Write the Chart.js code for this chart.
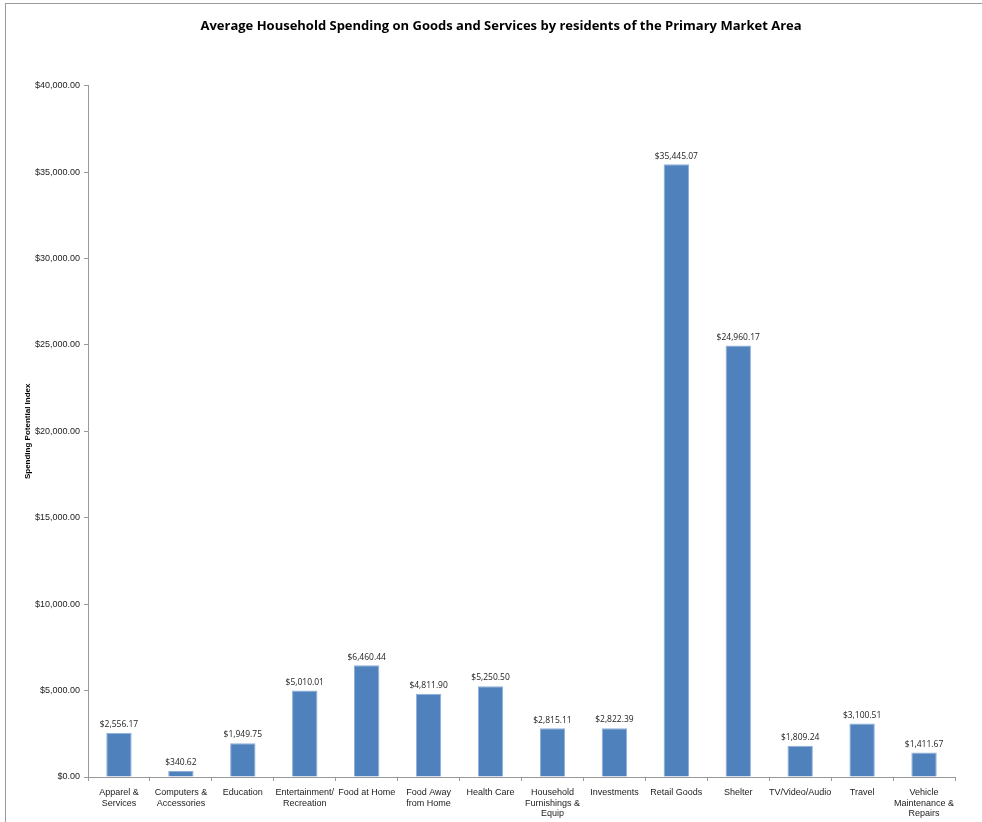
<!DOCTYPE html>
<html>
<head>
<meta charset="utf-8">
<script src="https://cdn.jsdelivr.net/npm/chart.js@4.4.1/dist/chart.umd.min.js"></script>
<style>
  html, body { margin: 0; padding: 0; background: #fff; overflow: hidden; }
  #frame { position: absolute; left: 5px; top: 3px; width: 1000px; height: 840px; border: 1px solid #9a9a9a; }
  #wrap { position: absolute; left: 0; top: 0; width: 982px; height: 822px; }
</style>
</head>
<body>
<div id="frame"></div>
<div id="wrap"><canvas id="spending"></canvas></div>
<script>
// spending categories, split into the lines shown under the axis
const categories = [
  ['Apparel &', 'Services'],
  ['Computers &', 'Accessories'],
  ['Education'],
  ['Entertainment/', 'Recreation'],
  ['Food at Home'],
  ['Food Away', 'from Home'],
  ['Health Care'],
  ['Household', 'Furnishings &', 'Equip'],
  ['Investments'],
  ['Retail Goods'],
  ['Shelter'],
  ['TV/Video/Audio'],
  ['Travel'],
  ['Vehicle', 'Maintenance &', 'Repairs']
]
const spending = [2556.17, 340.62, 1949.75, 5010.01, 6460.44, 4811.90, 5250.50,
  2815.11, 2822.39, 35445.07, 24960.17, 1809.24, 3100.51, 1411.67]

const money = (v) => '$' + v.toLocaleString('en-US', { minimumFractionDigits: 2, maximumFractionDigits: 2 })

// writes the dollar amount above each bar
const valueLabels = {
  id: 'valueLabels',
  afterDatasetsDraw(chart) {
    const ctx = chart.ctx
    const meta = chart.getDatasetMeta(0)
    ctx.save()
    ctx.font = '8.5px "Open Sans", sans-serif'
    ctx.fillStyle = '#222'
    ctx.textAlign = 'center'
    ctx.textBaseline = 'bottom'
    meta.data.forEach((bar, i) => {
      ctx.fillText(money(chart.data.datasets[0].data[i]), bar.x, bar.y - 4)
    })
    ctx.restore()
  }
}

// title sits centred over the whole frame, not just the padded box
const titleShift = {
  id: 'titleShift',
  afterLayout(chart) {
    if (chart.titleBlock) {
      chart.titleBlock.left += 21
      chart.titleBlock.right += 21
    }
  }
}

const ctx = document.getElementById('spending')
window.myBar = new Chart(ctx, {
  type: 'bar',
  data: {
    labels: categories,
    datasets: [{
      data: spending,
      backgroundColor: '#4f81bd',
      borderColor: '#8fb0d8',
      borderWidth: 1,
      barPercentage: 0.41,
      categoryPercentage: 1
    }]
  },
  options: {
    responsive: true,
    maintainAspectRatio: false,
    animation: false,
    layout: { padding: { left: 5, right: 27, top: 0, bottom: 0 } },
    plugins: {
      legend: { display: false },
      tooltip: { enabled: false },
      title: {
        display: true,
        text: 'Average Household Spending on Goods and Services by residents of the Primary Market Area',
        color: '#000',
        font: { family: '"Open Sans", sans-serif', size: 13, weight: 'bold' },
        padding: { top: 18, bottom: 52 }
      }
    },
    scales: {
      x: {
        grid: { drawOnChartArea: false, drawTicks: true, tickLength: 4, color: '#999', offset: true },
        border: { color: '#999' },
        ticks: {
          color: '#222',
          font: { family: '"Liberation Sans", Arial, sans-serif', size: 9 },
          maxRotation: 0,
          autoSkip: false,
          padding: 6
        },
        afterFit: (scale) => { scale.height = 45 }
      },
      y: {
        min: 0,
        max: 40000,
        grid: { drawOnChartArea: false, drawTicks: true, tickLength: 4, color: '#999' },
        border: { color: '#999' },
        ticks: {
          stepSize: 5000,
          color: '#222',
          padding: 4,
          font: { family: '"Liberation Sans", Arial, sans-serif', size: 9 },
          callback: (v) => money(v)
        },
        title: {
          display: true,
          text: 'Spending Potential Index',
          color: '#000',
          font: { family: '"Liberation Sans", Arial, sans-serif', size: 8, weight: 'bold' },
          padding: { top: 18, bottom: 0 }
        },
        afterFit: (scale) => { scale.width = 83 }
      }
    }
  },
  plugins: [valueLabels, titleShift]
})
</script>
</body>
</html>
